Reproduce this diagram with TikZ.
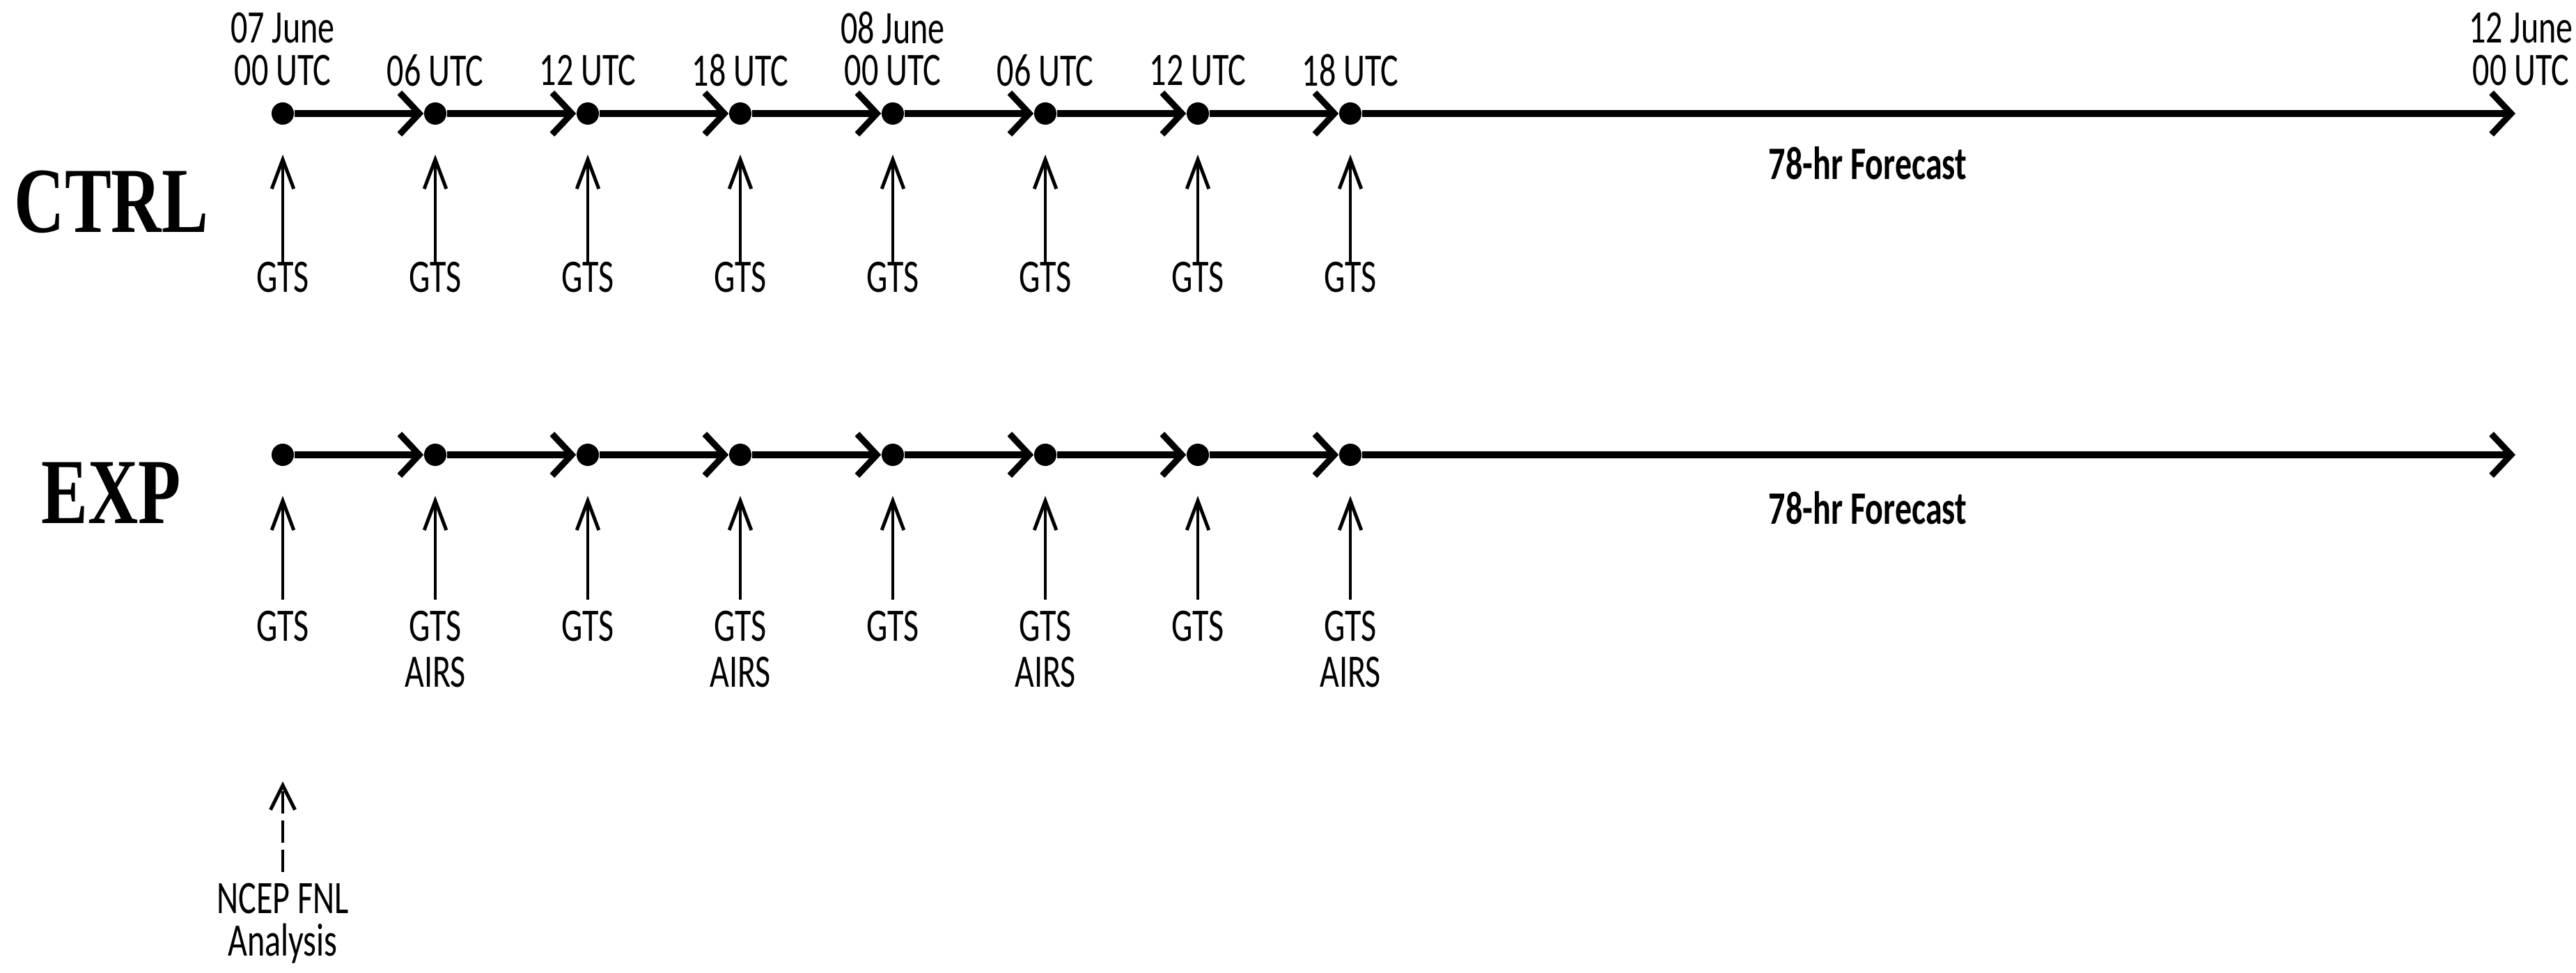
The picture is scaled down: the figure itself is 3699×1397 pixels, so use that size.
\documentclass[tikz,border=0pt]{standalone}
\usepackage{fontspec}
\setmainfont{Carlito}
\newfontfamily\serifbf{Liberation Serif}
\usetikzlibrary{arrows.meta}
\newcommand{\sqz}[1]{\scalebox{0.72}[1]{#1}}
\begin{document}
\begin{tikzpicture}[x=0.01cm,y=-0.01cm,
  dot/.style={circle,fill=black,inner sep=0pt,minimum size=0.32cm},
  main/.style={line width=2.6pt,-{Straight Barb[length=8pt,width=17pt,line width=2.6pt]}},
  obs/.style={line width=1.4pt,-{Straight Barb[length=12pt,width=9pt,line width=1.4pt]},shorten >=12},
  lbl/.style={font=\fontsize{19}{22}\selectfont,align=center,inner sep=0pt},
  big/.style={font=\fontsize{38}{40}\selectfont\serifbf\bfseries,inner sep=0pt}]
\useasboundingbox (0,0) rectangle (3699,1397);
\foreach \i in {0,...,7}{
  \pgfmathsetmacro\xx{406+219*\i}
  \node[dot] (a\i) at (\xx,163) {};
  \node[dot] (b\i) at (\xx,653) {};
  \coordinate (ca\i) at (\xx,377);
  \coordinate (cb\i) at (\xx,861);
  \draw[obs] (ca\i) -- (a\i);
  \draw[obs] (cb\i) -- (b\i);
  \node[lbl] (ga\i) at (\xx,398) {\sqz{GTS}};
}
\foreach \i/\j in {0/1,1/2,2/3,3/4,4/5,5/6,6/7}{
  \draw[main] (a\i) -- (a\j);
  \draw[main] (b\i) -- (b\j);
}
\coordinate (ae) at (3612,163);
\coordinate (be) at (3612,653);
\draw[main] (a7) -- (ae);
\draw[main] (b7) -- (be);
% top labels
\node[lbl] (t0a) at (406,40) {\sqz{07 June}};
\node[lbl] (t0) at (406,101) {\sqz{00 UTC}};
\node[lbl] (t1) at (625,101) {\sqz{06 UTC}};
\node[lbl] (t2) at (844,101) {\sqz{12 UTC}};
\node[lbl] (t3) at (1063,101) {\sqz{18 UTC}};
\node[lbl] (t4a) at (1282,40) {\sqz{08 June}};
\node[lbl] (t4) at (1282,101) {\sqz{00 UTC}};
\node[lbl] (t5) at (1501,101) {\sqz{06 UTC}};
\node[lbl] (t6) at (1720,101) {\sqz{12 UTC}};
\node[lbl] (t7) at (1939,101) {\sqz{18 UTC}};
\node[lbl] (tea) at (3620,40) {\sqz{12 June}};
\node[lbl] (te) at (3620,101) {\sqz{00 UTC}};
\node[lbl,font=\fontsize{19}{22}\selectfont\bfseries] (fa) at (2682,234) {\sqz{78-hr Forecast}};
\node[lbl,font=\fontsize{19}{22}\selectfont\bfseries] (fb) at (2682,729) {\sqz{78-hr Forecast}};
\node[big] (ctrl) at (160,290) {\scalebox{0.75}[1]{CTRL}};
\node[big] (exp) at (160,708) {\scalebox{0.75}[1]{EXP}};
% EXP labels
\foreach \i in {0,2,4,6}{
  \pgfmathsetmacro\xx{406+219*\i}
  \node[lbl] (gb\i) at (\xx,899) {\sqz{GTS}};
}
\foreach \i in {1,3,5,7}{
  \pgfmathsetmacro\xx{406+219*\i}
  \node[lbl] (gb\i) at (\xx,899) {\sqz{GTS}};
  \node[lbl] (ab\i) at (\xx,965) {\sqz{AIRS}};
}
% NCEP
\coordinate (nc0) at (406,1252);
\coordinate (nc1) at (406,1122);
\draw[line width=1.4pt,dash pattern=on 9pt off 3pt,-{Straight Barb[length=10pt,width=10pt,line width=1.4pt]}] (nc0) -- (nc1);
\node[lbl] (ncep) at (406,1290) {\sqz{NCEP FNL}};
\node[lbl] (ana) at (406,1355) {\sqz{Analysis}};
\end{tikzpicture}
\end{document}
